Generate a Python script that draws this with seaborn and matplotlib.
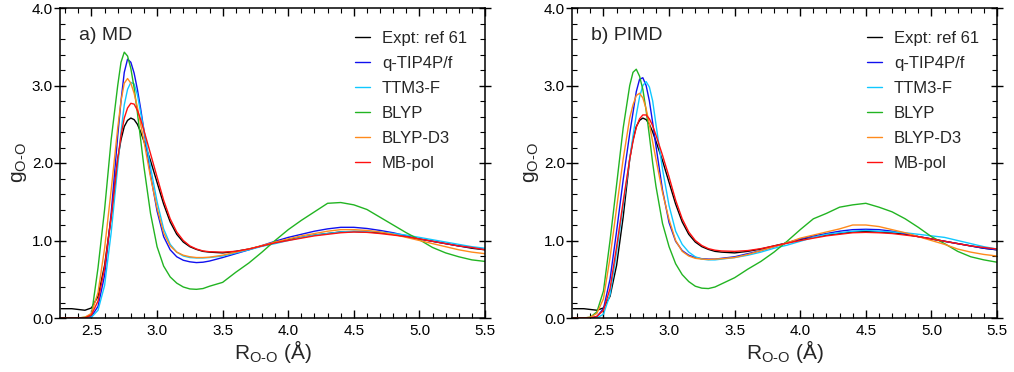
import numpy as np
import pandas as pd
import matplotlib
matplotlib.use("Agg")
import matplotlib.pyplot as plt
from matplotlib.ticker import MultipleLocator, FormatStrFormatter
import seaborn as sns

# ---------------- data ----------------
r_grid = [2.27, 2.30, 2.35, 2.40, 2.45, 2.50, 2.55, 2.60, 2.65, 2.70, 2.725, 2.75,
          2.775, 2.80, 2.825, 2.85, 2.875, 2.90, 2.95, 3.00, 3.05, 3.10, 3.15, 3.20,
          3.25, 3.30, 3.35, 3.40, 3.50, 3.60, 3.70, 3.80, 3.90, 4.00, 4.10, 4.20,
          4.30, 4.40, 4.50, 4.60, 4.70, 4.80, 4.90, 5.00, 5.10, 5.20, 5.30, 5.40, 5.50]

models = ["Expt: ref 61", "q-TIP4P/f", "TTM3-F", "BLYP", "BLYP-D3", "MB-pol"]
colors = ["#000000", "#1010ee", "#10c8ff", "#22b422", "#ff8a1c", "#ff1010"]

expt = [0.12, 0.12, 0.12, 0.11, 0.10, 0.13, 0.28, 0.68, 1.30, 2.05, 2.30, 2.47,
        2.55, 2.58, 2.56, 2.50, 2.40, 2.28, 2.03, 1.75, 1.47, 1.24, 1.08, 0.98,
        0.92, 0.885, 0.86, 0.85, 0.84, 0.86, 0.89, 0.93, 0.97, 1.01, 1.04, 1.07,
        1.09, 1.11, 1.115, 1.11, 1.10, 1.08, 1.05, 1.02, 0.99, 0.96, 0.93, 0.90, 0.88]

# ---- a) MD ----
md_qtip4pf = [0, 0, 0, 0, 0, 0.02, 0.15, 0.55, 1.35, 2.35, 2.80, 3.17,
              3.34, 3.30, 3.16, 2.95, 2.70, 2.42, 1.85, 1.38, 1.05, 0.88, 0.79, 0.745,
              0.725, 0.715, 0.72, 0.735, 0.78, 0.83, 0.88, 0.935, 0.99, 1.04, 1.08, 1.12,
              1.15, 1.17, 1.17, 1.155, 1.13, 1.10, 1.06, 1.02, 0.99, 0.96, 0.93, 0.91, 0.885]
md_ttm3f = [0, 0, 0, 0, 0, 0.01, 0.10, 0.42, 1.10, 1.95, 2.40, 2.75,
            2.95, 3.04, 3.02, 2.88, 2.65, 2.42, 1.95, 1.50, 1.15, 0.95, 0.85, 0.80,
            0.78, 0.775, 0.775, 0.78, 0.80, 0.84, 0.88, 0.925, 0.96, 1.00, 1.04, 1.07,
            1.09, 1.11, 1.12, 1.12, 1.11, 1.09, 1.07, 1.04, 1.01, 0.98, 0.95, 0.92, 0.90]
md_blyp = [0, 0, 0, 0, 0.01, 0.04, 0.65, 1.40, 2.30, 3.00, 3.30, 3.43,
           3.38, 3.22, 2.97, 2.65, 2.30, 1.95, 1.35, 0.92, 0.67, 0.53, 0.45, 0.40,
           0.375, 0.37, 0.38, 0.41, 0.46, 0.59, 0.71, 0.85, 1.00, 1.14, 1.26, 1.37,
           1.48, 1.49, 1.46, 1.40, 1.30, 1.20, 1.10, 1.01, 0.91, 0.84, 0.79, 0.75, 0.73]
md_blypd3 = [0, 0, 0, 0, 0.01, 0.06, 0.33, 0.90, 1.65, 2.45, 2.80, 3.03,
             3.09, 3.03, 2.90, 2.72, 2.50, 2.28, 1.82, 1.42, 1.10, 0.93, 0.85, 0.81,
             0.79, 0.78, 0.78, 0.785, 0.81, 0.85, 0.89, 0.935, 0.98, 1.02, 1.06, 1.09,
             1.12, 1.14, 1.14, 1.13, 1.11, 1.08, 1.04, 1.00, 0.96, 0.92, 0.88, 0.85, 0.83]
md_mbpol = [0, 0, 0, 0, 0, 0.04, 0.22, 0.65, 1.30, 2.05, 2.35, 2.58,
            2.71, 2.77, 2.76, 2.68, 2.56, 2.42, 2.12, 1.82, 1.52, 1.28, 1.11, 1.00,
            0.93, 0.89, 0.865, 0.855, 0.85, 0.86, 0.89, 0.93, 0.97, 1.00, 1.03, 1.06,
            1.08, 1.10, 1.11, 1.105, 1.09, 1.07, 1.05, 1.02, 0.99, 0.96, 0.93, 0.91, 0.88]

# ---- b) PIMD ----
pimd_qtip4pf = [0, 0, 0, 0, 0.02, 0.12, 0.50, 1.12, 1.78, 2.38, 2.65, 2.92,
                3.08, 3.10, 3.00, 2.80, 2.52, 2.22, 1.65, 1.23, 0.99, 0.87, 0.81, 0.78,
                0.765, 0.76, 0.76, 0.77, 0.79, 0.83, 0.87, 0.92, 0.97, 1.02, 1.06, 1.09,
                1.12, 1.14, 1.145, 1.14, 1.12, 1.09, 1.05, 1.02, 0.99, 0.96, 0.93, 0.90, 0.88]
pimd_ttm3f = [0, 0, 0, 0, 0, 0.05, 0.30, 0.85, 1.45, 2.05, 2.35, 2.62,
              2.85, 3.00, 3.05, 2.98, 2.80, 2.50, 1.92, 1.45, 1.12, 0.95, 0.85, 0.79,
              0.76, 0.75, 0.75, 0.76, 0.78, 0.81, 0.85, 0.90, 0.94, 0.99, 1.04, 1.08,
              1.10, 1.12, 1.13, 1.12, 1.11, 1.10, 1.08, 1.06, 1.04, 1.00, 0.96, 0.92, 0.89]
pimd_blyp = [0, 0, 0, 0.01, 0.08, 0.35, 1.00, 1.72, 2.45, 3.00, 3.17, 3.21,
             3.12, 2.95, 2.68, 2.35, 2.00, 1.70, 1.22, 0.92, 0.70, 0.56, 0.47, 0.41,
             0.385, 0.38, 0.40, 0.44, 0.52, 0.63, 0.73, 0.85, 0.99, 1.14, 1.28, 1.35,
             1.43, 1.46, 1.48, 1.43, 1.37, 1.28, 1.17, 1.05, 0.96, 0.86, 0.79, 0.75, 0.72]
pimd_blypd3 = [0, 0, 0, 0.01, 0.06, 0.25, 0.78, 1.42, 2.05, 2.58, 2.75, 2.87,
               2.90, 2.84, 2.70, 2.50, 2.27, 2.05, 1.62, 1.27, 1.00, 0.86, 0.80, 0.77,
               0.76, 0.755, 0.76, 0.765, 0.78, 0.82, 0.87, 0.92, 0.97, 1.03, 1.07, 1.11,
               1.15, 1.20, 1.20, 1.18, 1.14, 1.10, 1.05, 1.00, 0.95, 0.89, 0.85, 0.82, 0.80]
pimd_mbpol = [0, 0, 0, 0, 0.02, 0.10, 0.38, 0.92, 1.50, 2.05, 2.28, 2.46,
              2.57, 2.62, 2.62, 2.57, 2.48, 2.36, 2.10, 1.82, 1.52, 1.28, 1.11, 1.00,
              0.935, 0.895, 0.875, 0.865, 0.86, 0.87, 0.895, 0.93, 0.965, 1.00, 1.03, 1.06,
              1.08, 1.10, 1.105, 1.10, 1.09, 1.07, 1.05, 1.02, 0.99, 0.96, 0.93, 0.91, 0.89]

panels = ["a) MD", "b) PIMD"]
panel_series = {
    "a) MD": [expt, md_qtip4pf, md_ttm3f, md_blyp, md_blypd3, md_mbpol],
    "b) PIMD": [expt, pimd_qtip4pf, pimd_ttm3f, pimd_blyp, pimd_blypd3, pimd_mbpol],
}

rows = []
for p in panels:
    for m, vals in zip(models, panel_series[p]):
        for r, g in zip(r_grid, vals):
            rows.append({"panel": p, "model": m, "r": r, "g": g})
df = pd.DataFrame(rows)

# ---------------- styling ----------------
sns.set_style("ticks")
plt.rcParams["font.family"] = ["Liberation Sans", "DejaVu Sans"]
plt.rcParams["mathtext.fontset"] = "custom"
plt.rcParams["mathtext.rm"] = "Liberation Sans"
plt.rcParams["mathtext.it"] = "Liberation Sans:italic"
plt.rcParams["axes.linewidth"] = 1.1

fig = plt.figure(figsize=(10.14, 3.72), dpi=100)
W, H = 1014, 372
ax_boxes = [(60, 8, 485, 318), (572, 8, 997, 318)]
palette = dict(zip(models, colors))

for p, (x0, y0, x1, y1) in zip(panels, ax_boxes):
    ax = fig.add_axes([x0 / W, (H - y1) / H, (x1 - x0) / W, (y1 - y0) / H])
    sns.lineplot(data=df[df["panel"] == p], x="r", y="g", hue="model",
                 hue_order=models, palette=palette, estimator=None, sort=False,
                 linewidth=1.0, ax=ax, legend=True)
    ax.set_xlim(2.26, 5.5)
    ax.set_ylim(0.0, 4.0)
    ax.xaxis.set_major_locator(MultipleLocator(0.5))
    ax.xaxis.set_minor_locator(MultipleLocator(0.1))
    ax.yaxis.set_major_locator(MultipleLocator(1.0))
    ax.yaxis.set_minor_locator(MultipleLocator(0.2))
    ax.xaxis.set_major_formatter(FormatStrFormatter("%.1f"))
    ax.yaxis.set_major_formatter(FormatStrFormatter("%.1f"))
    ax.tick_params(axis="both", which="both", top=True, right=True,
                   direction="in", colors="black", labelsize=11)
    ax.tick_params(axis="x", which="major", length=6, width=1, pad=4)
    ax.tick_params(axis="x", which="minor", length=3.5, width=0.8)
    ax.tick_params(axis="y", which="major", length=8, width=1, direction="inout", pad=1)
    ax.tick_params(axis="y", which="minor", length=3.5, width=0.8)
    for s in ax.spines.values():
        s.set_color("black")
    ax.set_xlabel("$\\mathregular{R_{O\u2010O}}$ (\u00c5)", fontsize=15, labelpad=0)
    ax.set_ylabel("$\\mathregular{g_{O\u2010O}}$", fontsize=15, labelpad=2)
    ax.text(0.045, 0.94, p, transform=ax.transAxes, fontsize=14, va="top", ha="left")
    handles, labels = ax.get_legend_handles_labels()
    ax.legend(handles, labels, loc="upper left", bbox_to_anchor=(0.695, 0.925),
              frameon=False, fontsize=12, handlelength=0.9, handletextpad=0.7,
              labelspacing=0.6, borderaxespad=0, borderpad=0)

fig.savefig("out.png", dpi=100)
